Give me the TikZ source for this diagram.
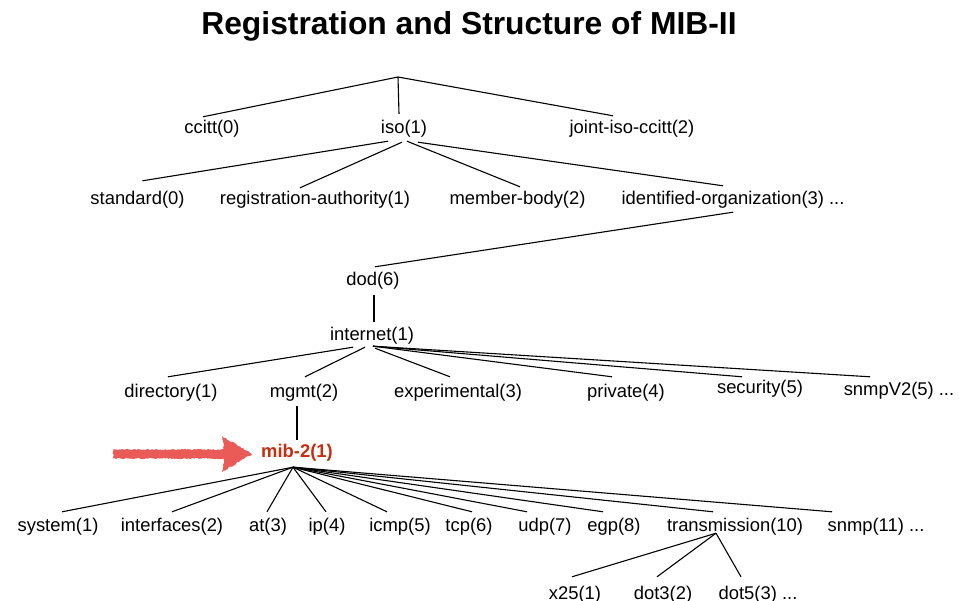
\documentclass[tikz,border=0pt]{standalone}
\usepackage{fontspec}
\setmainfont{Liberation Sans}
\usetikzlibrary{decorations.pathmorphing}
\definecolor{mibred}{RGB}{200,45,15}
\definecolor{arrowred}{RGB}{234,90,86}
\begin{document}
\begin{tikzpicture}[x=1pt,y=-1pt,
  lbl/.style={font=\fontsize{18.4}{18}\selectfont, text height=14.5pt, text depth=2.5pt, inner xsep=0pt, inner ysep=2.5pt},
  edge/.style={line width=1.1pt, black}]
\useasboundingbox (0,0) rectangle (959,601);

\node[font=\bfseries\fontsize{31.8}{32}\selectfont, inner sep=0pt] (title) at (469,26) {Registration and Structure of MIB-II};

\coordinate (root) at (398,77);
\node[lbl] (ccitt) at (212,128) {ccitt(0)};
\node[lbl] (iso) at (404,128) {iso(1)};
\node[lbl] (joint) at (632,128) {joint-iso-ccitt(2)};

\node[lbl] (std) at (137.5,199) {standard(0)};
\node[lbl] (reg) at (315,199) {registration-authority(1)};
\node[lbl] (member) at (517.5,199) {member-body(2)};
\node[lbl] (idorg) at (733,199) {identified-organization(3) ...};

\node[lbl] (dod) at (373,280) {dod(6)};
\node[lbl] (internet) at (372,335) {internet(1)};

\node[lbl] (directory) at (171,392) {directory(1)};
\node[lbl] (mgmt) at (304,392) {mgmt(2)};
\node[lbl] (exper) at (458,392) {experimental(3)};
\node[lbl] (private) at (626,392) {private(4)};
\node[lbl] (security) at (760,388) {security(5)};
\node[lbl] (snmpv2) at (899,390) {snmpV2(5) ...};

\node[lbl, font=\bfseries\fontsize{18.4}{18}\selectfont, text=mibred] (mib2) at (297,452) {mib-2(1)};

\node[lbl] (system) at (58,525) {system(1)};
\node[lbl] (interfaces) at (172,525) {interfaces(2)};
\node[lbl] (at) at (268,525) {at(3)};
\node[lbl] (ip) at (327,525) {ip(4)};
\node[lbl] (icmp) at (400,525) {icmp(5)};
\node[lbl] (tcp) at (469,525) {tcp(6)};
\node[lbl] (udp) at (545,525) {udp(7)};
\node[lbl] (egp) at (614,525) {egp(8)};
\node[lbl] (transmission) at (735,525) {transmission(10)};
\node[lbl] (snmp) at (876,525) {snmp(11) ...};

\node[lbl] (x25) at (575,593) {x25(1)};
\node[lbl] (dot3) at (663,593) {dot3(2)};
\node[lbl] (dot5) at (758,593) {dot5(3) ...};

% level 0 -> 1
\draw[edge] ([xshift=-9pt]ccitt.north) -- (root) -- ([xshift=-19pt,yshift=1pt]joint.north);
\draw[edge] (root) -- ([xshift=-5pt,yshift=3pt]iso.north);

% iso -> children
\draw[edge] ([xshift=-16pt,yshift=-2pt]iso.south) -- ([xshift=5pt,yshift=7pt]std.north);
\draw[edge] ([xshift=-2pt,yshift=-3pt]iso.south) -- ([xshift=-15pt]reg.north);
\draw[edge] ([xshift=3pt,yshift=-2pt]iso.south) -- ([xshift=2.5pt,yshift=1pt]member.north);
\draw[edge] ([xshift=14pt,yshift=-3pt]iso.south) -- ([xshift=-10pt,yshift=2pt]idorg.north);

% idorg -> dod -> internet
\draw[edge] ([xshift=0pt,yshift=-2pt]idorg.south) -- ([xshift=2pt,yshift=2pt]dod.north);
\draw[edge] ([xshift=1pt,yshift=-4pt]dod.south) -- ([xshift=2pt,yshift=2pt]internet.north);

% internet -> children
\draw[edge] ([xshift=-19pt,yshift=-1pt]internet.south) -- ([xshift=-3pt,yshift=4pt]directory.north);
\draw[edge] ([xshift=-7pt,yshift=-1pt]internet.south) -- ([xshift=1pt,yshift=4pt]mgmt.north);
\draw[edge] ([xshift=3pt,yshift=-2pt]internet.south) -- ([xshift=-8pt,yshift=4pt]exper.north);
\draw[edge] ([xshift=1pt]internet.south) -- ([xshift=-14pt,yshift=4pt]private.north);
\draw[edge] ([xshift=1pt]internet.south) -- ([xshift=-18pt]security.north);
\draw[edge] ([xshift=1pt]internet.south) -- ([xshift=-29pt,yshift=2pt]snmpv2.north);

% mgmt -> mib-2
\draw[edge] ([xshift=-7pt,yshift=-3pt]mgmt.south) -- ([yshift=1pt]mib2.north);

% mib-2 -> children
\coordinate (mibfork) at ([xshift=-4pt,yshift=-4pt]mib2.south);
\draw[edge] (mibfork) -- ([xshift=4pt,yshift=2pt]system.north);
\draw[edge] (mibfork) -- ([yshift=2pt]interfaces.north);
\draw[edge] (mibfork) -- ([xshift=-1pt,yshift=2pt]at.north);
\draw[edge] (mibfork) -- ([xshift=-1pt,yshift=2pt]ip.north);
\draw[edge] (mibfork) -- ([xshift=-13pt,yshift=2pt]icmp.north);
\draw[edge] (mibfork) -- ([xshift=3pt,yshift=2pt]tcp.north);
\draw[edge] (mibfork) -- ([xshift=-18pt,yshift=2pt]udp.north);
\draw[edge] (mibfork) -- ([xshift=-11pt,yshift=2pt]egp.north);
\draw[edge] (mibfork) -- ([xshift=-22pt,yshift=2pt]transmission.north);
\draw[edge] (mibfork) -- ([xshift=-44pt,yshift=2pt]snmp.north);

% transmission -> children
\coordinate (trfork) at ([xshift=-19pt,yshift=3pt]transmission.south);
\draw[edge] (trfork) -- ([xshift=-3pt,yshift=5pt]x25.north);
\draw[edge] (trfork) -- ([xshift=-6pt,yshift=5pt]dot3.north);
\draw[edge] (trfork) -- ([xshift=-17pt,yshift=5pt]dot5.north);

% red crayon arrow
\fill[arrowred, decorate, decoration={random steps, segment length=1.5pt, amplitude=0.8pt}]
  (113,449.5) -- (224,449.5) -- (222,436) -- (252,454) -- (222,472) -- (224,458.5) -- (113,458.5) -- cycle;
\end{tikzpicture}
\end{document}
